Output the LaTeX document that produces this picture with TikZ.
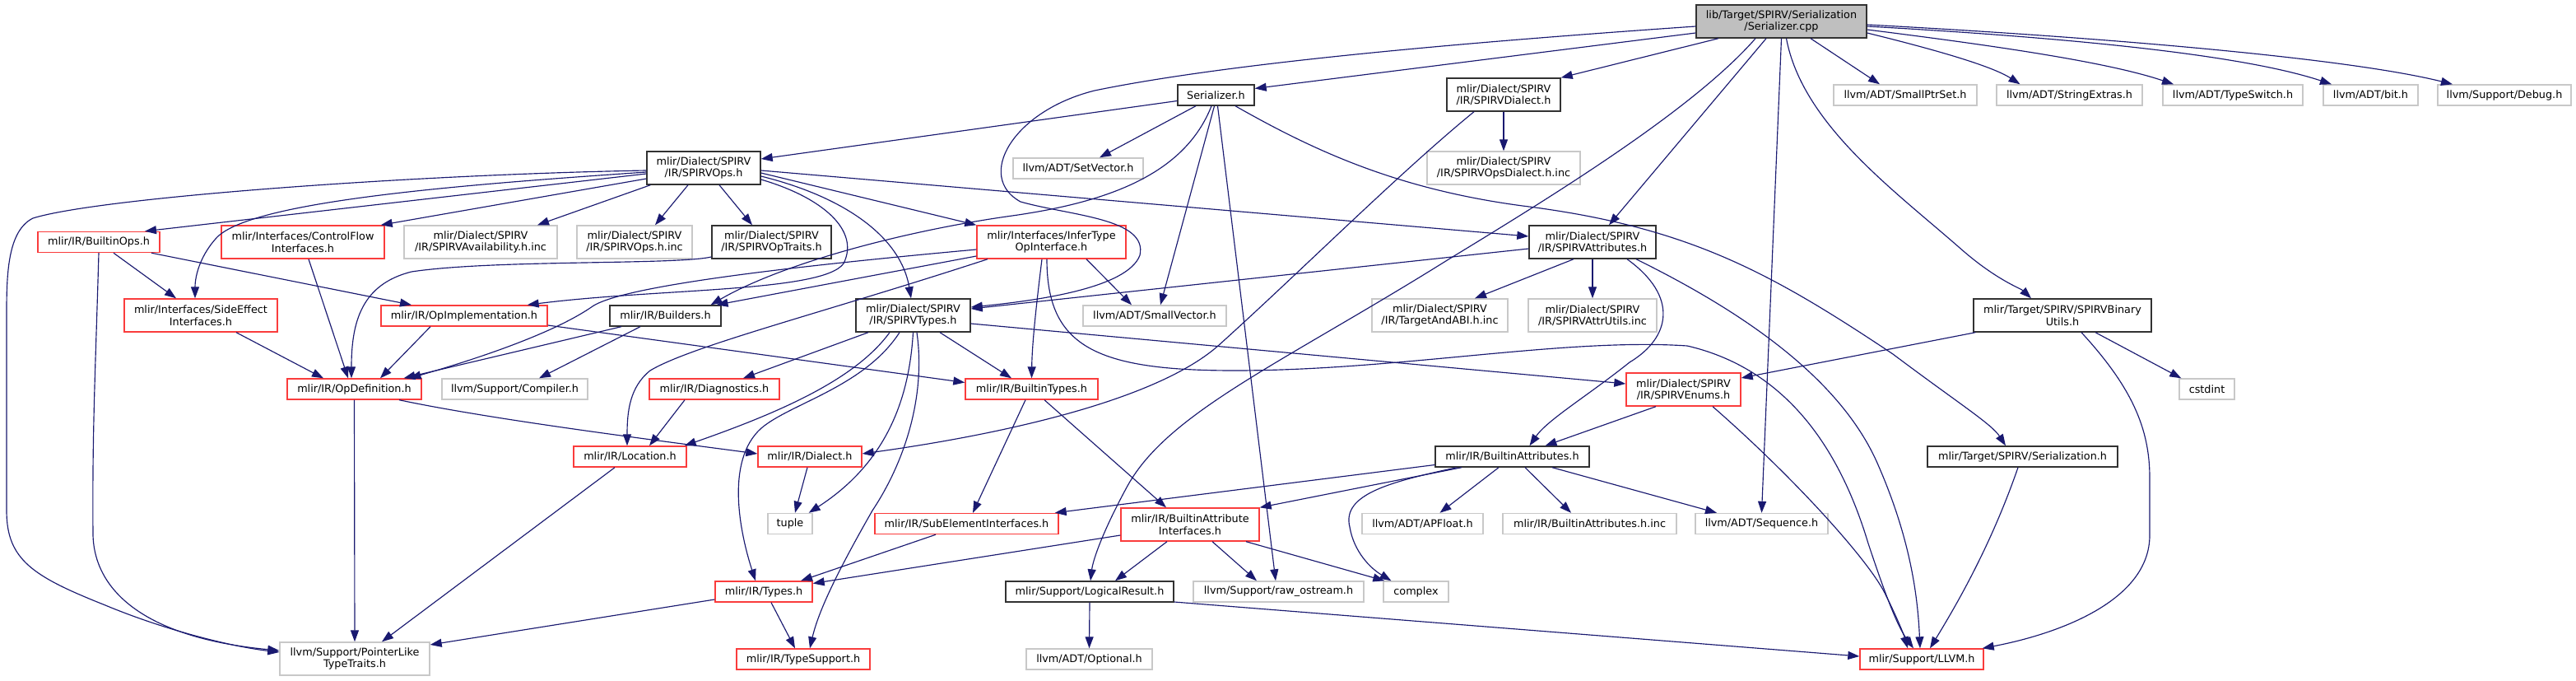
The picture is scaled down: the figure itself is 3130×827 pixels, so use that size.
\documentclass[tikz,border=0pt]{standalone}
\usepackage{fontspec}
\setmainfont{DejaVu Sans}
\usetikzlibrary{arrows.meta}
\definecolor{edgecol}{RGB}{25,25,112}
\definecolor{redcol}{RGB}{250,60,60}
\definecolor{graycol}{RGB}{200,200,200}
\definecolor{blackcol}{RGB}{50,50,50}
\definecolor{mainfill}{RGB}{191,191,191}
\tikzset{
  nbox/.style={rectangle, inner sep=0pt, align=center, fill=white, line width=1.4pt,
    font=\fontsize{12.8}{14.5}\selectfont, text=black},
  nblack/.style={nbox, draw=blackcol},
  nred/.style={nbox, draw=redcol},
  ngray/.style={nbox, draw=graycol},
  nmain/.style={nbox, draw=blackcol, fill=mainfill},
  one/.style={minimum height=25pt},
  two/.style={minimum height=40pt},
  e/.style={draw=edgecol, line width=1.15pt, -{Triangle[length=14pt,width=10pt]}}
}
\begin{document}
\begin{tikzpicture}[x=1pt,y=-1pt]
\useasboundingbox (0,0) rectangle (3130,827);
\fill[white] (0,0) rectangle (3130,827);
% row 0
\node[nmain,two,minimum width=207pt] (S0) at (2164.5,26) {lib/Target/SPIRV/Serialization\\/Serializer.cpp};
% row 1
\node[nblack,one,minimum width=93pt] (serh) at (1477.5,115.5) {Serializer.h};
\node[nblack,two,minimum width=138pt] (dial) at (1827,115) {mlir/Dialect/SPIRV\\/IR/SPIRVDialect.h};
\node[ngray,one,minimum width=174pt] (smallptr) at (2315,115.5) {llvm/ADT/SmallPtrSet.h};
\node[ngray,one,minimum width=177pt] (strext) at (2514.5,115.5) {llvm/ADT/StringExtras.h};
\node[ngray,one,minimum width=170pt] (tswitch) at (2713,115.5) {llvm/ADT/TypeSwitch.h};
\node[ngray,one,minimum width=115pt] (bit) at (2880.5,115.5) {llvm/ADT/bit.h};
\node[ngray,one,minimum width=162pt] (debug) at (3043,115.5) {llvm/Support/Debug.h};
% row 2
\node[nblack,two,minimum width=138pt] (ops) at (855,204) {mlir/Dialect/SPIRV\\/IR/SPIRVOps.h};
\node[ngray,one,minimum width=158pt] (setvec) at (1310,204.5) {llvm/ADT/SetVector.h};
\node[ngray,two,minimum width=186pt] (opsdial) at (1827,204) {mlir/Dialect/SPIRV\\/IR/SPIRVOpsDialect.h.inc};
% row 3
\node[nred,one,minimum width=148pt] (bops) at (120,294) {mlir/IR/BuiltinOps.h};
\node[nred,two,minimum width=198pt] (cfi) at (368,294) {mlir/Interfaces/ControlFlow\\Interfaces.h};
\node[ngray,two,minimum width=186pt] (avail) at (584,294) {mlir/Dialect/SPIRV\\/IR/SPIRVAvailability.h.inc};
\node[ngray,two,minimum width=140pt] (opsinc) at (771,294) {mlir/Dialect/SPIRV\\/IR/SPIRVOps.h.inc};
\node[nblack,two,minimum width=145pt] (optraits) at (937.5,294) {mlir/Dialect/SPIRV\\/IR/SPIRVOpTraits.h};
\node[nred,two,minimum width=181pt] (infer) at (1277.5,294) {mlir/Interfaces/InferType\\OpInterface.h};
\node[nblack,two,minimum width=154pt] (attrs) at (1935,294) {mlir/Dialect/SPIRV\\/IR/SPIRVAttributes.h};
% row 4
\node[nred,two,minimum width=186pt] (sei) at (244,383) {mlir/Interfaces/SideEffect\\Interfaces.h};
\node[nred,one,minimum width=202pt] (opimpl) at (564,383.5) {mlir/IR/OpImplementation.h};
\node[nblack,one,minimum width=135pt] (builders) at (808.5,383.5) {mlir/IR/Builders.h};
\node[nblack,two,minimum width=139pt] (types) at (1109.5,383) {mlir/Dialect/SPIRV\\/IR/SPIRVTypes.h};
\node[ngray,one,minimum width=174pt] (smallvec) at (1403,383.5) {llvm/ADT/SmallVector.h};
\node[ngray,two,minimum width=165pt] (tabi) at (1749.5,383) {mlir/Dialect/SPIRV\\/IR/TargetAndABI.h.inc};
\node[ngray,two,minimum width=156pt] (attrutils) at (1935,383) {mlir/Dialect/SPIRV\\/IR/SPIRVAttrUtils.inc};
\node[nblack,two,minimum width=216pt] (binutils) at (2506,383) {mlir/Target/SPIRV/SPIRVBinary\\Utils.h};
% row 5
\node[nred,one,minimum width=163pt] (opdef) at (430.5,472.5) {mlir/IR/OpDefinition.h};
\node[ngray,one,minimum width=177pt] (compiler) at (625.5,472.5) {llvm/Support/Compiler.h};
\node[nred,one,minimum width=158pt] (diag) at (868,472.5) {mlir/IR/Diagnostics.h};
\node[nred,one,minimum width=161pt] (btypes) at (1253.5,472.5) {mlir/IR/BuiltinTypes.h};
\node[nred,two,minimum width=139pt] (enums) at (2045.5,473) {mlir/Dialect/SPIRV\\/IR/SPIRVEnums.h};
\node[ngray,one,minimum width=67pt] (cstdint) at (2681.5,472.5) {cstdint};
% row 6
\node[nred,one,minimum width=137pt] (loc) at (765.5,554.5) {mlir/IR/Location.h};
\node[nred,one,minimum width=126pt] (dialect) at (984,554.5) {mlir/IR/Dialect.h};
\node[nblack,one,minimum width=187pt] (battrs) at (1837.5,554.5) {mlir/IR/BuiltinAttributes.h};
\node[nblack,one,minimum width=231pt] (serialization) at (2457.5,554.5) {mlir/Target/SPIRV/Serialization.h};
% row 7
\node[ngray,one,minimum width=54pt] (tuple) at (960,636) {tuple};
\node[nred,one,minimum width=223pt] (subel) at (1174.5,636) {mlir/IR/SubElementInterfaces.h};
\node[nred,two,minimum width=168pt] (bai) at (1446,637) {mlir/IR/BuiltinAttribute\\Interfaces.h};
\node[ngray,one,minimum width=147pt] (apfloat) at (1728.5,636) {llvm/ADT/APFloat.h};
\node[ngray,one,minimum width=211pt] (battrsinc) at (1931.5,636) {mlir/IR/BuiltinAttributes.h.inc};
\node[ngray,one,minimum width=161pt] (seq) at (2140.5,636) {llvm/ADT/Sequence.h};
% row 8
\node[nred,one,minimum width=118pt] (irtypes) at (928,718.5) {mlir/IR/Types.h};
\node[nblack,one,minimum width=204pt] (logres) at (1324,718.5) {mlir/Support/LogicalResult.h};
\node[ngray,one,minimum width=207pt] (rawos) at (1553.5,718.5) {llvm/Support/raw\_ostream.h};
\node[ngray,one,minimum width=79pt] (complex) at (1720.5,718.5) {complex};
% row 9
\node[ngray,two,minimum width=182pt] (ptrlike) at (431,800) {llvm/Support/PointerLike\\TypeTraits.h};
\node[nred,one,minimum width=162pt] (typesupport) at (976,800.5) {mlir/IR/TypeSupport.h};
\node[ngray,one,minimum width=153pt] (optional) at (1323.5,800.5) {llvm/ADT/Optional.h};
\node[nred,one,minimum width=150pt] (llvmh) at (2335,800.5) {mlir/Support/LLVM.h};

% ---- edges from Serializer.cpp
\draw[e] ([yshift=-14pt]S0.west) -- ([yshift=8pt]serh.east);
\draw[e] ([yshift=-6pt]S0.west) .. controls (1800,50) and (1500,75) .. (1330,110) .. controls (1230,135) and (1185,215) .. (1240,245) .. controls (1300,262) and (1395,265) .. (1385,310) .. controls (1370,350) and (1260,365) .. ([yshift=10pt]types.east);
\draw[e] ([xshift=-76.5pt]S0.south) -- (dial.north east);
\draw[e] ([xshift=-31.5pt]S0.south) .. controls (2060,130) and (1900,230) .. (1760,315) .. controls (1560,440) and (1420,500) .. (1370,590) .. controls (1340,645) and (1328,680) .. ([xshift=1pt]logres.north);
\draw[e] ([xshift=-18.5pt]S0.south) -- ([xshift=20pt]attrs.north);
\draw[e] (S0.south) -- (seq.north);
\draw[e] ([xshift=6pt]S0.south) .. controls (2190,150) and (2300,230) .. (2380,300) .. controls (2425,340) and (2455,350) .. ([xshift=-38pt]binutils.north);
\draw[e] ([xshift=35.5pt]S0.south) -- ([xshift=-31pt]smallptr.north);
\draw[e] ([yshift=-14pt]S0.east) .. controls (2350,60) and (2420,80) .. ([xshift=-60pt]strext.north);
\draw[e] ([yshift=-10pt]S0.east) .. controls (2420,55) and (2560,75) .. ([xshift=-72pt]tswitch.north);
\draw[e] ([yshift=-6pt]S0.east) .. controls (2500,45) and (2720,65) .. ([xshift=-47.5pt]bit.north);
\draw[e] ([yshift=-4pt]S0.east) .. controls (2550,45) and (2850,70) .. ([xshift=-63pt]debug.north);
% ---- Serializer.h
\draw[e] ([yshift=-7pt]serh.west) -- ([yshift=11pt]ops.east);
\draw[e] ([xshift=-24.5pt]serh.south) -- ([xshift=26pt]setvec.north);
\draw[e] ([xshift=-5.5pt]serh.south) .. controls (1440,210) and (1350,245) .. (1230,262) .. controls (1100,280) and (950,320) .. ([xshift=55pt]builders.north);
\draw[e] ([xshift=-2pt]serh.south) -- ([xshift=7pt]smallvec.north);
\draw[e] ([xshift=2pt]serh.south) -- ([xshift=-3.5pt]rawos.north);
\draw[e] ([xshift=23.5pt]serh.south) .. controls (1600,185) and (1700,230) .. (1850,250) .. controls (2050,275) and (2150,330) .. (2300,430) .. controls (2380,490) and (2420,515) .. ([xshift=-20.5pt]serialization.north);
% ---- SPIRVDialect.h
\draw[e] (dial.south) -- (opsdial.north);
\draw[e] ([xshift=-36pt]dial.south) .. controls (1700,210) and (1580,330) .. (1480,420) .. controls (1400,490) and (1200,530) .. ([yshift=3.5pt]dialect.east);
% ---- SPIRVOps.h
\draw[e] ([yshift=-3pt]ops.west) .. controls (500,212) and (120,240) .. (40,265) .. controls (10,280) and (8,330) .. (8,380) -- (8,620) .. controls (8,680) and (40,700) .. (128,735) .. controls (200,765) and (280,785) .. ([yshift=8pt]ptrlike.west);
\draw[e] ([yshift=-5pt]ops.west) .. controls (550,225) and (300,245) .. (262,290) .. controls (240,315) and (237,340) .. ([xshift=-7pt]sei.north);
\draw[e] ([yshift=-7pt]ops.west) -- ([xshift=56pt]bops.north);
\draw[e] ([yshift=-13pt]ops.west) -- ([xshift=-5pt]cfi.north east);
\draw[e] ([xshift=5pt]ops.south west) -- ([xshift=69pt]avail.north);
\draw[e] ([xshift=-19pt]ops.south) -- ([xshift=25pt]opsinc.north);
\draw[e] ([xshift=19pt]ops.south) -- ([xshift=-23.5pt]optraits.north);
\draw[e] ([yshift=-14pt]ops.east) .. controls (1000,240) and (1045,280) .. (1025,320) .. controls (1000,355) and (800,350) .. ([xshift=-25pt]opimpl.north east);
\draw[e] ([yshift=-10pt]ops.east) .. controls (1030,240) and (1095,290) .. ([xshift=-2.5pt]types.north);
\draw[e] ([yshift=-6pt]ops.east) -- (infer.north west);
\draw[e] ([yshift=-3pt]ops.east) -- ([yshift=7pt]attrs.west);
% ---- BuiltinOps.h
\draw[e] ([xshift=18pt]bops.south) -- ([xshift=-30pt]sei.north);
\draw[e] ([xshift=64pt]bops.south) -- ([xshift=-64pt]opimpl.north);
\draw[e] (bops.south) .. controls (116,450) and (112,520) .. (113,650) .. controls (115,720) and (180,775) .. ([yshift=10pt]ptrlike.west);
% ---- into OpDefinition etc.
\draw[e] ([xshift=7pt]cfi.south) -- ([xshift=-7.5pt]opdef.north);
\draw[e] ([xshift=43pt]sei.south) -- ([xshift=-37.5pt]opdef.north);
\draw[e] ([yshift=-18pt]optraits.west) .. controls (820,322) and (600,315) .. (500,330) .. controls (440,345) and (427,390) .. ([xshift=-3.5pt]opdef.north);
\draw[e] ([xshift=-41pt]opimpl.south) -- ([xshift=31.5pt]opdef.north);
\draw[e] ([yshift=-11.5pt]opimpl.east) -- ([yshift=8pt]btypes.west);
\draw[e] ([xshift=-53.5pt]builders.south) -- ([xshift=60pt]opdef.north);
\draw[e] ([xshift=-30.5pt]builders.south) -- ([xshift=29.5pt]compiler.north);
% ---- InferTypeOpInterface.h
\draw[e] ([yshift=-9pt]infer.west) .. controls (1000,320) and (760,345) .. (720,372) .. controls (680,400) and (600,430) .. ([xshift=67pt]opdef.north);
\draw[e] ([yshift=-17pt]infer.west) -- ([xshift=62pt]builders.north);
\draw[e] ([xshift=-77.5pt]infer.south) .. controls (1000,380) and (840,420) .. (790,450) .. controls (765,470) and (762,500) .. ([xshift=-3.5pt]loc.north);
\draw[e] ([xshift=-11.5pt]infer.south) .. controls (1258,380) and (1254,420) .. (btypes.north);
\draw[e] ([xshift=-5.5pt]infer.south) .. controls (1272,420) and (1330,450) .. (1500,450) .. controls (1700,450) and (1900,410) .. (2050,420) .. controls (2180,450) and (2240,560) .. (2270,660) .. controls (2290,720) and (2305,760) .. ([xshift=-10pt]llvmh.north);
\draw[e] ([xshift=42.5pt]infer.south) -- ([xshift=-28pt]smallvec.north);
% ---- SPIRVTypes.h
\draw[e] ([xshift=-54.5pt]types.south) -- ([xshift=35pt]diag.north);
\draw[e] ([xshift=-28.5pt]types.south) .. controls (1040,460) and (950,500) .. ([xshift=-3pt]loc.north east);
\draw[e] ([xshift=-16.5pt]types.south) .. controls (1050,470) and (960,490) .. (925,520) .. controls (880,560) and (900,650) .. ([xshift=-10pt]irtypes.north);
\draw[e] (types.south) .. controls (1105,480) and (1080,560) .. ([xshift=-5pt]tuple.north east);
\draw[e] ([xshift=4.5pt]types.south) .. controls (1125,480) and (1100,560) .. (1060,620) .. controls (1020,690) and (995,740) .. ([xshift=8pt]typesupport.north);
\draw[e] ([xshift=32.5pt]types.south) -- ([xshift=-24.5pt]btypes.north);
\draw[e] ([yshift=-10pt]types.east) -- ([yshift=7pt]enums.west);
% ---- SPIRVAttributes.h
\draw[e] ([yshift=-8pt]attrs.west) -- ([yshift=8pt]types.east);
\draw[e] ([xshift=-23pt]attrs.south) -- ([xshift=42.5pt]tabi.north);
\draw[e] (attrs.south) -- (attrutils.north);
\draw[e] ([xshift=42pt]attrs.south) .. controls (2040,360) and (2030,410) .. (1980,440) .. controls (1930,480) and (1880,510) .. ([xshift=21pt]battrs.north);
\draw[e] ([xshift=53pt]attrs.south) .. controls (2100,370) and (2230,450) .. (2280,560) .. controls (2320,650) and (2330,720) .. ([xshift=-2pt]llvmh.north);
% ---- SPIRVBinaryUtils.h
\draw[e] ([xshift=3pt]binutils.south west) -- ([yshift=14pt]enums.east);
\draw[e] ([xshift=40pt]binutils.south) -- ([xshift=3pt]cstdint.north west);
\draw[e] ([xshift=23pt]binutils.south) .. controls (2590,470) and (2612,520) .. (2612,580) -- (2612,650) .. controls (2612,730) and (2500,770) .. ([xshift=-2pt]llvmh.north east);
% ---- lower levels
\draw[e] (opdef.south) -- (ptrlike.north);
\draw[e] ([xshift=54.5pt]opdef.south) .. controls (600,510) and (800,535) .. ([yshift=3.5pt]dialect.west);
\draw[e] ([xshift=-36pt]diag.south) -- ([xshift=23.5pt]loc.north);
\draw[e] ([xshift=-7.5pt]btypes.south) -- ([xshift=7.5pt]subel.north);
\draw[e] ([xshift=15.5pt]btypes.south) -- ([xshift=-29pt]bai.north);
\draw[e] ([xshift=-33.5pt]enums.south) -- ([xshift=40pt]battrs.north);
\draw[e] ([xshift=35.5pt]enums.south) .. controls (2180,580) and (2270,680) .. (2290,720) .. controls (2305,750) and (2313,770) .. ([xshift=-17pt]llvmh.north);
\draw[e] ([xshift=-18.5pt]loc.south) -- ([xshift=33pt]ptrlike.north);
\draw[e] ([xshift=-3pt]dialect.south) -- ([xshift=6pt]tuple.north);
\draw[e] ([yshift=-10pt]battrs.west) -- ([xshift=-5pt]subel.north east);
\draw[e] ([xshift=-61.5pt]battrs.south) -- (bai.north east);
\draw[e] ([xshift=-67.5pt]battrs.south) .. controls (1690,585) and (1630,600) .. (1640,640) .. controls (1645,670) and (1665,690) .. ([xshift=-30pt]complex.north);
\draw[e] ([xshift=-16.5pt]battrs.south) -- ([xshift=21pt]apfloat.north);
\draw[e] ([xshift=15.5pt]battrs.south) -- ([xshift=-22.5pt]battrsinc.north);
\draw[e] ([xshift=48.5pt]battrs.south) -- ([xshift=-54.5pt]seq.north);
\draw[e] ([xshift=-5.5pt]serialization.south) .. controls (2420,660) and (2380,730) .. ([xshift=10pt]llvmh.north);
\draw[e] ([xshift=-37.5pt]subel.south) -- ([xshift=45pt]irtypes.north);
\draw[e] ([yshift=-13pt]bai.west) -- ([yshift=10pt]irtypes.east);
\draw[e] ([xshift=-28pt]bai.south) -- ([xshift=31pt]logres.north);
\draw[e] ([xshift=27pt]bai.south) -- ([xshift=-26.5pt]rawos.north);
\draw[e] ([xshift=68pt]bai.south) -- ([xshift=2pt]complex.north west);
\draw[e] ([yshift=-9.5pt]irtypes.west) -- ([yshift=17pt]ptrlike.east);
\draw[e] ([xshift=9pt]irtypes.south) -- ([xshift=-10pt]typesupport.north);
\draw[e] (logres.south) -- (optional.north);
\draw[e] ([yshift=-12.5pt]logres.east) -- ([yshift=3.5pt]llvmh.west);
\end{tikzpicture}
\end{document}
